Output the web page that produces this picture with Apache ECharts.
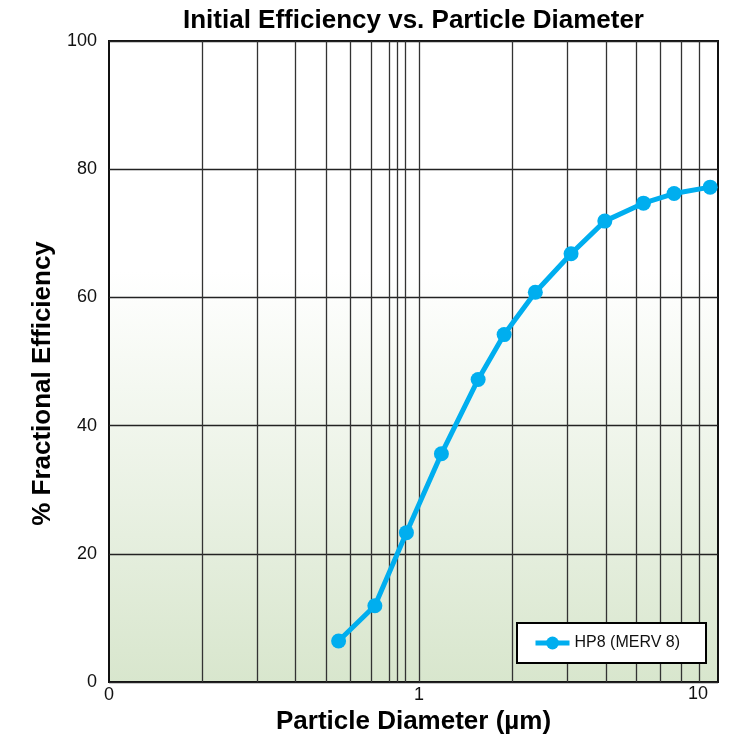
<!DOCTYPE html>
<html>
<head>
<meta charset="utf-8">
<script src="https://cdn.jsdelivr.net/npm/echarts@6/dist/echarts.min.js"></script>
<style>
  html, body { margin: 0; padding: 0; background: #fff; }
  #chart { width: 736px; height: 735px; }
</style>
</head>
<body>
<div id="chart"></div>
<script>
// particle diameter (µm) and initial efficiency (%)
const diameters = [0.55, 0.72, 0.91, 1.18, 1.55, 1.88, 2.37, 3.09, 3.97, 5.29, 6.64, 8.68];
const efficiency = [6.4, 11.9, 23.3, 35.6, 47.2, 54.2, 60.8, 66.8, 71.9, 74.7, 76.2, 77.2];
const seriesName = "HP8 (MERV 8)";

// vertical grid lines of the log paper
const gridX = [0.2, 0.3, 0.4, 0.5, 0.6, 0.7, 0.8, 0.85, 0.9, 1, 2, 3, 4, 5, 6, 7, 8];
const xMin = 0.1, xMax = 9.2;

const FONT = "Liberation Sans, Arial, sans-serif";

const chart = echarts.init(document.getElementById("chart"));

chart.setOption({
  animation: false,
  title: {
    text: "Initial Efficiency vs. Particle Diameter",
    left: 178, top: 3,
    textStyle: { fontFamily: FONT, fontSize: 26, fontWeight: "bold", color: "#000" }
  },
  legend: {
    data: [seriesName],
    left: 517, top: 623,
    orient: "horizontal",
    backgroundColor: "#fff",
    borderColor: "#000",
    borderWidth: 2,
    borderRadius: 0,
    padding: [12, 26, 12, 16],
    itemWidth: 34, itemHeight: 16, itemGap: 6,
    lineStyle: { width: 5 },
    textStyle: { fontFamily: FONT, fontSize: 16, color: "#111" }
  },
  grid: {
    left: 109, right: 18, top: 41, bottom: 53,
    outerBoundsMode: "none",
    containLabel: false,
    show: true,
    borderColor: "#111",
    borderWidth: 2,
    backgroundColor: new echarts.graphic.LinearGradient(0, 0, 0, 1, [
      { offset: 0, color: "#ffffff" },
      { offset: 0.36, color: "#ffffff" },
      { offset: 1, color: "#d8e6cd" }
    ])
  },
  xAxis: {
    type: "log",
    logBase: 10,
    min: xMin, max: xMax,
    interval: 1,
    name: "Particle Diameter (µm)",
    nameLocation: "middle",
    nameGap: 26,
    nameTextStyle: { fontFamily: FONT, fontSize: 26, fontWeight: "bold", color: "#000", verticalAlign: "top" },
    axisLine: { show: false },
    axisTick: { show: false },
    splitLine: { show: false },
    axisLabel: {
      fontFamily: FONT, fontSize: 18, color: "#111", margin: 4,
      showMaxLabel: false,
      formatter: v => Math.abs(v - 0.1) < 1e-6 ? "0" : (Math.abs(v - 1) < 1e-6 ? "1" : "")
    }
  },
  yAxis: {
    type: "value",
    min: 0, max: 100, interval: 20,
    name: "% Fractional Efficiency",
    nameLocation: "middle",
    nameGap: 51,
    nameTextStyle: { fontFamily: FONT, fontSize: 26, fontWeight: "bold", color: "#000", padding: [0, 44, 0, 0] },
    axisLine: { show: false },
    axisTick: { show: false },
    splitLine: { show: true, lineStyle: { color: "#222", width: 1.3 } },
    axisLabel: { fontFamily: FONT, fontSize: 18, color: "#111", margin: 12 }
  },
  graphic: [{
    type: "text",
    left: 688, top: 685,
    style: { text: "10", fontFamily: FONT, fontSize: 18, fill: "#111" }
  }],
  series: [{
    name: seriesName,
    type: "line",
    z: 3,
    data: diameters.map((d, i) => [d, efficiency[i]]),
    symbol: "circle",
    symbolSize: 15,
    lineStyle: { color: "#00aeef", width: 5 },
    itemStyle: { color: "#00aeef" },
    markLine: {
      silent: true,
      z: 1,
      symbol: ["none", "none"],
      label: { show: false },
      lineStyle: { color: "#333", width: 1.3, type: "solid" },
      data: gridX.map(v => ({ xAxis: v }))
    }
  }]
});
</script>
</body>
</html>
